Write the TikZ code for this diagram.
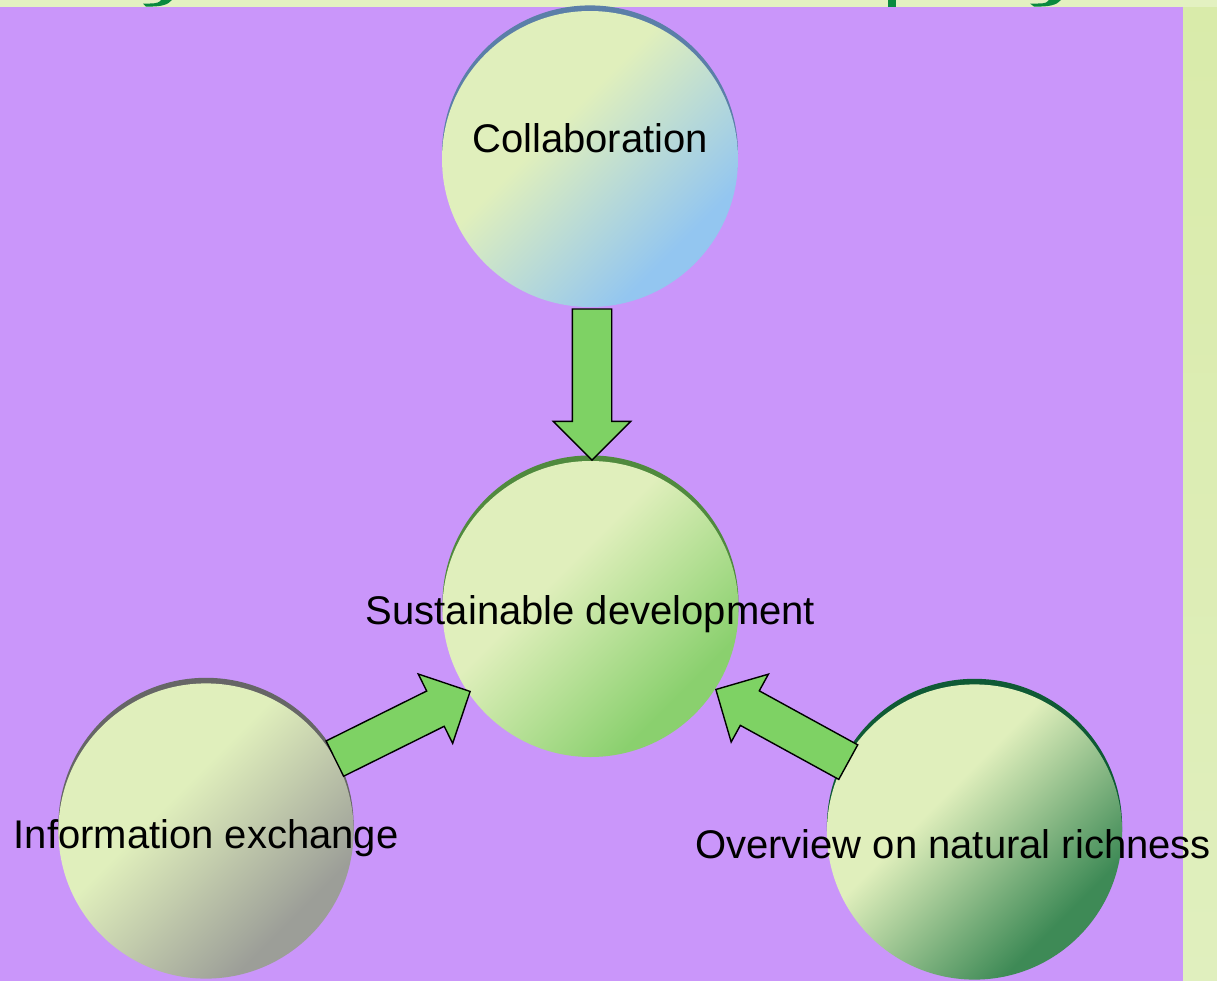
\documentclass[tikz,border=0pt]{standalone}
\usepackage{fontspec}
\setmainfont{Liberation Sans}
\usetikzlibrary{shapes.arrows}
\definecolor{bggreen}{RGB}{227,241,193}
\definecolor{stripA}{RGB}{217,235,170}
\definecolor{stripB}{RGB}{233,245,205}
\definecolor{stripC}{RGB}{224,239,190}
\definecolor{titlegreen}{RGB}{10,138,62}
\definecolor{purplebg}{RGB}{202,150,250}
\definecolor{arrowgreen}{RGB}{126,210,100}
\definecolor{lightball}{RGB}{224,239,188}
\definecolor{collabdark}{RGB}{147,198,240}
\definecolor{collabrim}{RGB}{91,127,168}
\definecolor{susdark}{RGB}{138,208,110}
\definecolor{susrim}{RGB}{80,138,62}
\definecolor{infodark}{RGB}{156,158,152}
\definecolor{inforim}{RGB}{102,102,102}
\definecolor{overdark}{RGB}{62,138,86}
\definecolor{overrim}{RGB}{15,90,53}
\pgfdeclareverticalshading{collabshade}{100bp}{color(0bp)=(collabdark); color(29bp)=(collabdark); color(58bp)=(lightball); color(100bp)=(lightball)}
\pgfdeclareverticalshading{susshade}{100bp}{color(0bp)=(susdark); color(29bp)=(susdark); color(58bp)=(lightball); color(100bp)=(lightball)}
\pgfdeclareverticalshading{infoshade}{100bp}{color(0bp)=(infodark); color(29bp)=(infodark); color(58bp)=(lightball); color(100bp)=(lightball)}
\pgfdeclareverticalshading{overshade}{100bp}{color(0bp)=(overdark); color(29bp)=(overdark); color(58bp)=(lightball); color(100bp)=(lightball)}
\tikzset{
  ball/.style={circle, minimum size=148pt, inner sep=0pt, draw=none, shade, shading angle=45},
  lbl/.style={font=\fontsize{20}{24}\selectfont, inner sep=0pt, text=black, anchor=base},
  blockarrow/.style={single arrow, draw=black, line width=0.7pt, fill=arrowgreen,
    minimum height=75.5pt, minimum width=38pt, single arrow head extend=9.5pt,
    single arrow tip angle=90, inner xsep=0pt, inner ysep=9.5pt, line join=miter, anchor=tip},
  hook/.style={fill=titlegreen}
}
\begin{document}
\begin{tikzpicture}[x=0.5pt,y=-0.5pt]
\useasboundingbox (0,0) rectangle (1217,981);
% background
\fill[bggreen] (0,0) rectangle (1217,981);
\shade[top color=stripA, middle color=stripB, bottom color=stripC] (1183,7) rectangle (1217,981);
% cut-off title fragments
\fill[hook] (161,0) -- (172,0) .. controls (168,5) and (160,7) .. (146,6.5) -- (143,3.5) -- (150,3.5) .. controls (157,3.5) and (160,2) .. (161,0) -- cycle;
\fill[hook] (888,0) rectangle (896,7);
\fill[hook] (1049,0) -- (1061,0) .. controls (1057,5) and (1049,7) .. (1034,6.5) -- (1030,3.5) -- (1038,3.5) .. controls (1046,3.5) and (1048,2) .. (1049,0) -- cycle;
% purple panel
\fill[purplebg] (0,7) rectangle (1183,981);
% circle centres
\coordinate (cc) at (590,159);
\coordinate (sc) at (590.5,609);
\coordinate (ic) at (206,831);
\coordinate (oc) at (974.5,832);
% rims
\fill[collabrim] ([yshift=2.8pt]cc) circle[radius=74pt];
\fill[susrim] ([yshift=2.8pt]sc) circle[radius=74pt];
\fill[inforim] ([yshift=2.8pt]ic) circle[radius=73.8pt];
\fill[overrim] ([yshift=2.8pt]oc) circle[radius=73.8pt];
% balls
\node[ball, shading=collabshade, shading angle=45] (collab) at (cc) {};
\node[ball, shading=susshade, shading angle=45] (sus) at (sc) {};
\node[ball, shading=infoshade, shading angle=45, minimum size=147.6pt] (info) at (ic) {};
\node[ball, shading=overshade, shading angle=45, minimum size=147.6pt] (over) at (oc) {};
% block arrows (placed by their tips)
\coordinate (t1) at (592,461);
\coordinate (t2) at (471,691);
\coordinate (t3) at (715,689);
\node[blockarrow, rotate=-90] (a1) at (t1) {};
\node[blockarrow, rotate=26.4] (a2) at (t2) {};
\node[blockarrow, rotate=151.25] (a3) at (t3) {};
% labels
\node[lbl] (tcollab) at (590,152) {Collaboration};
\node[lbl] (tsus) at (590.5,624) {Sustainable development};
\node[lbl] (tinfo) at (206,848) {Information exchange};
\node[lbl] (tover) at (953,858) {Overview on natural richness};
\end{tikzpicture}
\end{document}
